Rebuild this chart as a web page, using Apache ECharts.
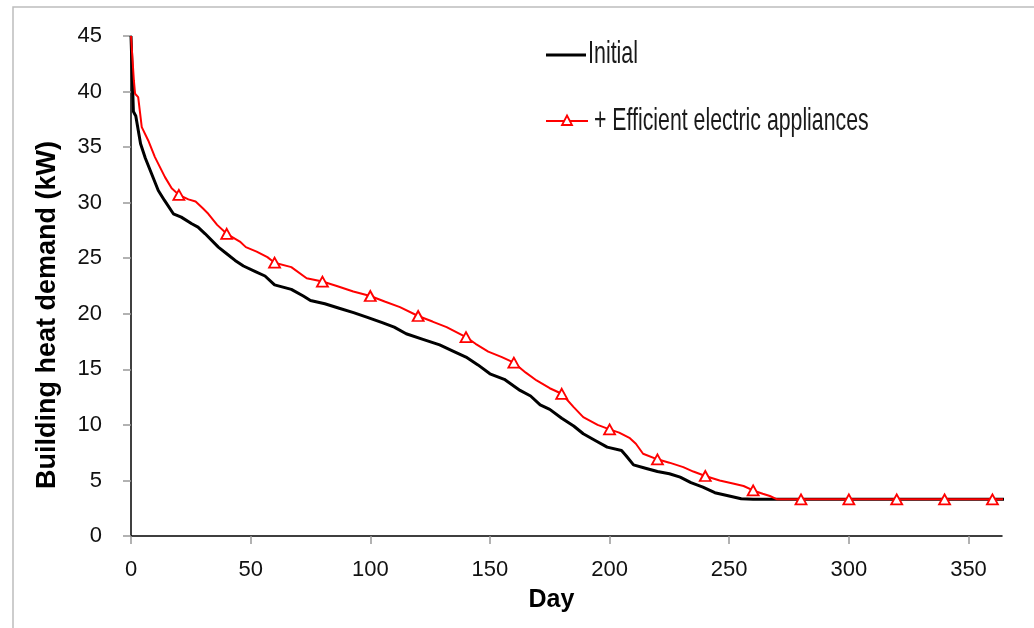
<!DOCTYPE html>
<html>
<head>
<meta charset="utf-8">
<script src="https://cdn.jsdelivr.net/npm/echarts@6/dist/echarts.min.js"></script>
<style>html,body{margin:0;padding:0;background:#fff}#chart{width:1034px;height:628px}</style>
</head>
<body>
<div id="chart"></div>
<script>
// Days and values for the "Initial" curve
var initialDays = [0,1,2,4,6,8.6,11.4,14,17.7,21,25.4,28,31,36.5,40,43.5,47,52,56,60,67,72,75,81,87,93,98.5,105,110,115,122,129,135,140,145,150,156,162.6,167,171,175,180,185,189,194,199,205,207,210,215,220,225,229.5,234,239,244,250,255,260,365];
var initialValues = [45,38.2,37.8,35.3,34.0,32.6,31.1,30.2,29.0,28.7,28.1,27.8,27.2,26.0,25.4,24.8,24.3,23.8,23.4,22.6,22.2,21.6,21.2,20.9,20.5,20.1,19.7,19.2,18.8,18.2,17.7,17.2,16.6,16.1,15.4,14.6,14.1,13.1,12.6,11.8,11.4,10.6,9.9,9.2,8.6,8.0,7.7,7.2,6.4,6.1,5.8,5.6,5.3,4.8,4.4,3.9,3.6,3.35,3.3,3.3];

// Days and values for the "+ Efficient electric appliances" curve
var efficientDays = [0,0.6,1.2,1.7,3,4.5,7.2,10,14.2,17,20,24,27,30,32.3,36,40,45.5,48,52.5,57,60,67,73.4,80,86,92.9,100,106,112.4,120,126,131.9,140,144,149.3,155,160,165,169.5,175,180,185,189,195,200,204,208.5,211,214,220,225,230.8,235,240,246,252,256,260,264,267,270,280,300,320,340,360,365];
var efficientValues = [45,43,41,39.8,39.5,36.8,35.6,34.1,32.3,31.3,30.7,30.3,30.1,29.5,29.0,28.0,27.2,26.5,26.0,25.6,25.1,24.6,24.2,23.2,22.9,22.5,22.0,21.6,21.1,20.6,19.8,19.3,18.8,17.9,17.3,16.6,16.1,15.6,14.7,14.0,13.3,12.8,11.6,10.7,10.0,9.6,9.3,8.8,8.3,7.4,6.9,6.6,6.2,5.8,5.4,5.0,4.7,4.5,4.1,3.8,3.6,3.3,3.3,3.3,3.3,3.3,3.3,3.3];

// Days carrying a triangle marker on the red curve
var markerDays = [20,40,60,80,100,120,140,160,180,200,220,240,260,280,300,320,340,360];

var seriesNames = ['Initial', '+ Efficient electric appliances'];
var xTicks = [0,50,100,150,200,250,300,350];
var yTicks = [0,5,10,15,20,25,30,35,40,45];

function pairs(xs, ys){ return xs.map(function(x,i){ return [x, ys[i]]; }); }

var legendFont = '"Liberation Sans", Arial, sans-serif';
var chart = echarts.init(document.getElementById('chart'));
chart.setOption({
  backgroundColor: '#ffffff',
  animation: false,
  graphic: [
    {type: 'rect', silent: true, shape: {x: 13, y: 7, width: 1200, height: 800},
     style: {fill: 'none', stroke: '#bdbdbd', lineWidth: 1.5}},
    // legend item 1
    {type: 'line', silent: true, shape: {x1: 546, y1: 55, x2: 586, y2: 55},
     style: {stroke: '#000', lineWidth: 3}},
    {type: 'text', silent: true, x: 588, y: 54, scaleX: 0.67,
     style: {text: seriesNames[0], font: '32px ' + legendFont, fill: '#1a1a1a', verticalAlign: 'middle', align: 'left'}},
    // legend item 2
    {type: 'line', silent: true, shape: {x1: 546, y1: 121, x2: 588, y2: 121},
     style: {stroke: '#ff0000', lineWidth: 2}},
    {type: 'polygon', silent: true, shape: {points: [[567, 115.5], [572, 125], [562, 125]]},
     style: {fill: '#fff', stroke: '#ff0000', lineWidth: 1.8}},
    {type: 'text', silent: true, x: 594, y: 121, scaleX: 0.665,
     style: {text: seriesNames[1], font: '32px ' + legendFont, fill: '#1a1a1a', verticalAlign: 'middle', align: 'left'}}
  ],
  grid: {left: 131, right: 32, top: 36, bottom: 92, containLabel: false},
  xAxis: {
    type: 'value', min: 0, max: 364, interval: 50,
    name: 'Day', nameLocation: 'middle', nameGap: 52,
    nameTextStyle: {fontFamily: '"Liberation Sans", Arial, sans-serif', fontWeight: 'bold', fontSize: 25, color: '#000', padding: [0, 30, 0, 0]},
    axisLine: {show: true, onZero: false, lineStyle: {color: '#000', width: 1.5}},
    axisTick: {show: true, inside: false, length: 8, lineStyle: {color: '#999', width: 1.5}},
    axisLabel: {margin: 23, fontFamily: '"Liberation Sans", Arial, sans-serif', fontSize: 22, color: '#111'},
    splitLine: {show: false}
  },
  yAxis: {
    type: 'value', min: 0, max: 45, interval: 5,
    name: 'Building heat demand (kW)', nameLocation: 'middle', nameGap: 70, nameRotate: 90,
    nameTextStyle: {fontFamily: '"Liberation Sans", Arial, sans-serif', fontWeight: 'bold', fontSize: 27, color: '#000', padding: [0, 58, 0, 0], overflow: 'none'},
    axisLine: {show: true, lineStyle: {color: '#000', width: 1.5}},
    axisTick: {show: true, inside: false, length: 8, lineStyle: {color: '#999', width: 1.5}},
    axisLabel: {margin: 29, fontFamily: '"Liberation Sans", Arial, sans-serif', fontSize: 22, color: '#111'},
    splitLine: {show: false}
  },
  series: [
    {
      name: seriesNames[0], type: 'line',
      data: pairs(initialDays, initialValues),
      symbol: 'none', showSymbol: false,
      lineStyle: {color: '#000', width: 3},
      itemStyle: {color: '#000'},
      z: 2
    },
    {
      name: seriesNames[1], type: 'line',
      data: pairs(efficientDays, efficientValues),
      symbol: 'triangle', showSymbol: true, showAllSymbol: true,
      symbolSize: function(v){ return markerDays.indexOf(v[0]) >= 0 ? [11, 10] : 0; },
      lineStyle: {color: '#ff0000', width: 2},
      itemStyle: {color: '#ffffff', borderColor: '#ff0000', borderWidth: 1.8},
      z: 3
    }
  ]
});
</script>
</body>
</html>
